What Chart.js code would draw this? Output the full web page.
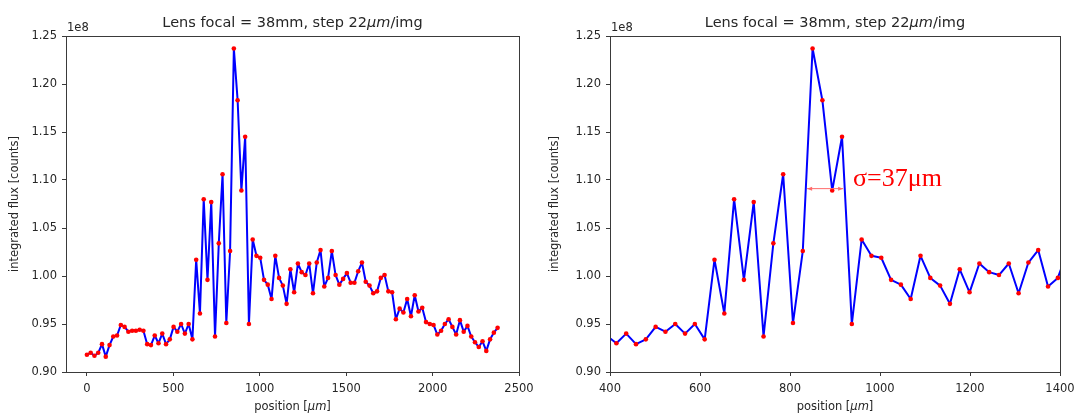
<!DOCTYPE html>
<html>
<head>
<meta charset="utf-8">
<script src="https://cdn.jsdelivr.net/npm/chart.js@4"></script>
<style>
  html, body { margin: 0; padding: 0; background: #fff; }
  #wrap { position: relative; width: 1082px; height: 417px; }
  canvas { position: absolute; top: 0; }
  #fullScan { left: 0; }
  #zoomScan { left: 541px; }
</style>
</head>
<body>
<div id="wrap">
  <canvas id="fullScan" width="541" height="417"></canvas>
  <canvas id="zoomScan" width="541" height="417"></canvas>
</div>
<script>
// integrated flux per image, in units of 1e8 counts
const flux = [
  0.918, 0.920, 0.917, 0.920, 0.929, 0.916, 0.928, 0.937, 0.938, 0.949,
  0.947, 0.942, 0.943, 0.943, 0.944, 0.943, 0.929, 0.928, 0.938, 0.930,
  0.940, 0.929, 0.934, 0.947, 0.942, 0.950, 0.940, 0.950, 0.934, 1.017,
  0.961, 1.080, 0.996, 1.077, 0.937, 1.034, 1.106, 0.951, 1.026, 1.237,
  1.183, 1.089, 1.145, 0.950, 1.038, 1.021, 1.019, 0.996, 0.991, 0.976,
  1.021, 0.998, 0.990, 0.971, 1.007, 0.983, 1.013, 1.004, 1.001, 1.013,
  0.982, 1.014, 1.027, 0.989, 0.998, 1.026, 1.001, 0.991, 0.997, 1.003,
  0.993, 0.993, 1.005, 1.014, 0.994, 0.990, 0.982, 0.984, 0.998, 1.001,
  0.984, 0.983, 0.955, 0.966, 0.962, 0.976, 0.958, 0.980, 0.963, 0.967,
  0.952, 0.950, 0.949, 0.939, 0.943, 0.950, 0.955, 0.947, 0.939, 0.954,
  0.942, 0.948, 0.937, 0.931, 0.926, 0.932, 0.922, 0.934, 0.941, 0.946
];
const stepUm = 21.8; // stage step between images
const fluxTicks = [0.90, 0.95, 1.00, 1.05, 1.10, 1.15, 1.20, 1.25];
const fullTicks = [0, 500, 1000, 1500, 2000, 2500];
const zoomTicks = [400, 600, 800, 1000, 1200, 1400];
const sigmaSpan = [838, 918];
const sigmaLevel = 1.091;
const sigmaLabel = "σ=37μm";

const points = flux.map((v, i) => ({ x: i * stepUm, y: v }));

const FONT = "'DejaVu Sans', sans-serif";
const INK = "#262626";

// draw a run of text pieces with different fonts, centred on cx
function drawParts(ctx, parts, cx, y) {
  let total = 0;
  parts.forEach(p => {
    ctx.font = p.font;
    p.w = ctx.measureText(p.text).width;
    total += p.w;
  });
  let x = cx - total / 2;
  ctx.textAlign = "left";
  ctx.textBaseline = "alphabetic";
  parts.forEach(p => {
    ctx.font = p.font;
    ctx.fillText(p.text, x, y);
    x += p.w;
  });
}

const frameAndText = {
  id: "frameAndText",
  afterDraw(chart) {
    const { ctx, chartArea: a } = chart;
    ctx.save();
    ctx.strokeStyle = "#3a3a3a";
    ctx.lineWidth = 1;
    ctx.strokeRect(a.left + 0.5, a.top + 0.5, a.right - a.left, a.bottom - a.top);

    ctx.fillStyle = INK;
    const mid = (a.left + a.right) / 2;
    drawParts(ctx, [
      { text: "Lens focal = 38mm, step 22", font: "14.5px " + FONT },
      { text: "μm", font: "italic 14.5px " + FONT },
      { text: "/img", font: "14.5px " + FONT }
    ], mid, 27);
    drawParts(ctx, [
      { text: "position [", font: "11.5px " + FONT },
      { text: "μm", font: "italic 11.5px " + FONT },
      { text: "]", font: "11.5px " + FONT }
    ], mid, 410);

    ctx.font = "11.5px " + FONT;
    ctx.textAlign = "left";
    ctx.textBaseline = "alphabetic";
    ctx.fillText("1e8", a.left + 1, a.top - 5);
    ctx.restore();
  }
};

const sigmaMark = {
  id: "sigmaMark",
  afterDatasetsDraw(chart) {
    const { ctx, scales: { x, y } } = chart;
    const x0 = x.getPixelForValue(sigmaSpan[0]);
    const x1 = x.getPixelForValue(sigmaSpan[1]);
    const yy = y.getPixelForValue(sigmaLevel);
    ctx.save();
    ctx.strokeStyle = "#ff6b6b";
    ctx.fillStyle = "#ff6b6b";
    ctx.lineWidth = 1;
    ctx.beginPath();
    ctx.moveTo(x0, yy);
    ctx.lineTo(x1, yy);
    ctx.stroke();
    [[x0, 1], [x1, -1]].forEach(([px, d]) => {
      ctx.beginPath();
      ctx.moveTo(px, yy);
      ctx.lineTo(px + 5 * d, yy - 2);
      ctx.lineTo(px + 5 * d, yy + 2);
      ctx.closePath();
      ctx.fill();
    });
    ctx.fillStyle = "#ff0000";
    ctx.font = "26px 'Liberation Serif', serif";
    ctx.textAlign = "left";
    ctx.textBaseline = "alphabetic";
    ctx.fillText(sigmaLabel, x1 + 10, yy - 3);
    ctx.restore();
  }
};

function makePanel(id, xMin, xMax, xTicks, yAxisWidth, titlePad, extraPlugins) {
  const ctx = document.getElementById(id).getContext("2d");
  return new Chart(ctx, {
    type: "line",
    data: {
      datasets: [{
        data: points,
        borderColor: "#0000ff",
        borderWidth: 2,
        borderJoinStyle: "round",
        pointRadius: 2.3,
        pointBackgroundColor: "#ff0000",
        pointBorderWidth: 0,
        tension: 0
      }]
    },
    options: {
      responsive: false,
      animation: false,
      layout: { padding: { top: 36, right: 22, left: 0, bottom: 0 } },
      plugins: { legend: { display: false }, tooltip: { enabled: false } },
      scales: {
        x: {
          type: "linear",
          min: xMin,
          max: xMax,
          afterFit: s => { s.height = 45; },
          afterBuildTicks: s => { s.ticks = xTicks.map(v => ({ value: v })); },
          grid: { display: true, drawOnChartArea: false, color: "#3a3a3a", tickLength: 4 },
          border: { display: false },
          ticks: { color: INK, font: { family: FONT, size: 11.5 }, padding: 6, maxRotation: 0,
                   callback: v => String(v) }
        },
        y: {
          min: 0.9,
          max: 1.25,
          afterFit: s => { s.width = yAxisWidth; },
          afterBuildTicks: s => { s.ticks = fluxTicks.map(v => ({ value: v })); },
          grid: { display: true, drawOnChartArea: false, color: "#3a3a3a", tickLength: 4 },
          border: { display: false },
          ticks: { color: INK, font: { family: FONT, size: 11.5 }, padding: 5,
                   callback: v => v.toFixed(2) },
          title: { display: true, text: "integrated flux [counts]", color: INK,
                   font: { family: FONT, size: 11.5 }, padding: { top: titlePad, bottom: 0 } }
        }
      }
    },
    plugins: [frameAndText].concat(extraPlugins)
  });
}

makePanel("fullScan", -121, 2500, fullTicks, 66, 8, []);
makePanel("zoomScan", 400, 1400, zoomTicks, 69, 7, [sigmaMark]);
</script>
</body>
</html>
